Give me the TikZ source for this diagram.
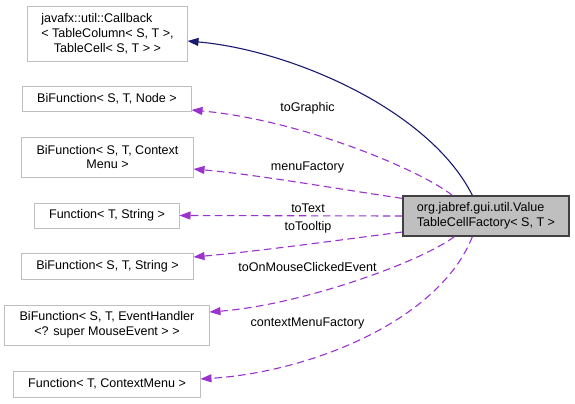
\documentclass[tikz,border=0pt]{standalone}
\usepackage{fontspec}
\setmainfont{Liberation Sans}
\usetikzlibrary{arrows.meta}
\definecolor{boxgray}{HTML}{BFBFBF}
\definecolor{mainborder}{HTML}{404040}
\definecolor{inhblue}{HTML}{191970}
\definecolor{usepurple}{HTML}{9A32CD}
\tikzset{
  box/.style={draw=boxgray, line width=1bp, fill=white, inner sep=0pt, align=center,
    font=\fontsize{12.6}{15}\selectfont},
  mainbox/.style={draw=mainborder, line width=1.3bp, fill=boxgray, inner sep=0pt, align=left,
    font=\fontsize{12.6}{15}\selectfont, minimum width=166bp, minimum height=40bp},
  lbl/.style={inner sep=0pt, font=\fontsize{12.6}{15}\selectfont},
  inh/.style={draw=inhblue, line width=1.1bp, -{Triangle[length=11bp,width=8bp]}},
  use/.style={draw=usepurple, line width=1.1bp, dash pattern=on 7.5bp off 4.5bp,
    -{Triangle[length=11bp,width=8bp]}},
}
\begin{document}
\begin{tikzpicture}[x=1bp,y=-1bp]
\useasboundingbox (0,0) rectangle (575,403);
\node[mainbox] (main) at (486,216) {org.jabref.gui.util.Value\\TableCellFactory< S, T >};
\node[box, minimum width=159bp, minimum height=55bp] (cb) at (107.5,33.5)
  {\rlap{javafx::util::Callback}\phantom{< TableColumn< S, T >,}\\< TableColumn< S, T >,\\TableCell< S, T > >};
\node[box, minimum width=168bp, minimum height=25bp] (bn) at (107,98.5) {BiFunction< S, T, Node >};
\node[box, minimum width=171bp, minimum height=40bp] (bc) at (107.5,157) {BiFunction< S, T, Context\\Menu >};
\node[box, minimum width=144bp, minimum height=25bp] (ft) at (107,215.5) {Function< T, String >};
\node[box, minimum width=171bp, minimum height=26bp] (bs) at (107.5,266) {BiFunction< S, T, String >};
\node[box, minimum width=204bp, minimum height=40bp] (be) at (107,325) {BiFunction< S, T, EventHandler\\<? super MouseEvent > >};
\node[box, minimum width=186bp, minimum height=26bp] (fc) at (107,384) {Function< T, ContextMenu >};

\node[lbl] (lg) at (307.5,108) {toGraphic};
\node[lbl] (lm) at (307.5,167) {menuFactory};
\node[lbl] (lt) at (308,208) {toText};
\node[lbl] (ltt) at (308,227) {toTooltip};
\node[lbl] (lo) at (307.5,267) {toOnMouseClickedEvent};
\node[lbl] (lc) at (307.5,323) {contextMenuFactory};

\draw[inh] ([xshift=70bp]main.north west) .. controls +(-43,-86) and +(103,9) .. ([yshift=-7.5bp]cb.east);
\draw[use] ([xshift=50bp]main.north west) .. controls +(-33,-26) and +(109,10) .. ([yshift=-11.5bp]bn.east);
\draw[use] ([yshift=-3bp]main.north west) .. controls +(-63,-9) and +(67,6) .. ([yshift=-12bp]bc.east);
\draw[use] (main.west) -- (ft.east);
\draw[use] ([yshift=-16bp]main.west) .. controls +(-63,8) and +(67,-6) .. ([yshift=9bp]bs.east);
\draw[use] ([xshift=52bp]main.south west) .. controls +(-35,26) and +(91,-7) .. ([yshift=13bp]be.east);
\draw[use] ([xshift=70bp]main.south west) .. controls +(-33,84) and +(110,-7) .. ([yshift=5bp]fc.east);
\end{tikzpicture}
\end{document}
